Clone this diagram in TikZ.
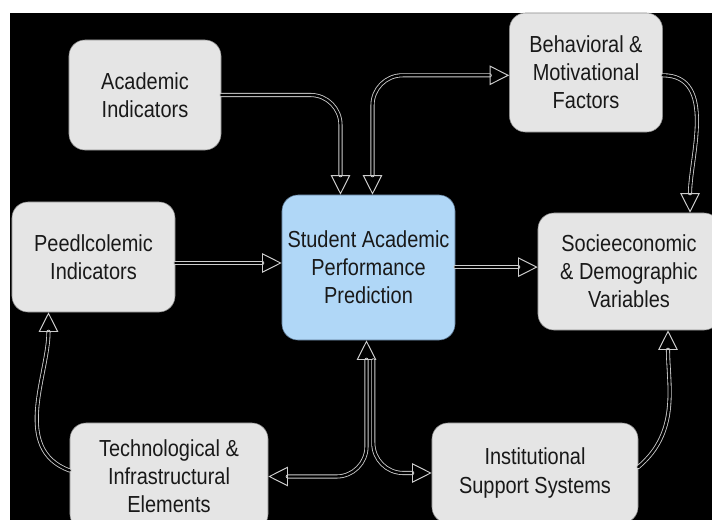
\documentclass[tikz,border=0pt]{standalone}
\usepackage{fontspec}
\setmainfont{Liberation Sans}[FakeStretch=0.86]
\usetikzlibrary{arrows.meta}

\colorlet{boxfill}{black!10}
\colorlet{boxdraw}{black!45}
\definecolor{predfill}{RGB}{176,215,247}
\definecolor{preddraw}{RGB}{90,118,145}
\colorlet{linkcolor}{black!20}

\begin{document}
\begin{tikzpicture}
  [x=0.025cm,y=-0.025cm,line cap=round,
   % Styles
   box/.style={draw=boxdraw,fill=boxfill,rounded corners=0.4cm,inner sep=0pt,
     align=center,text=black!90,font=\fontsize{16.5}{20}\selectfont},
   pred box/.style={box,draw=preddraw,fill=predfill},
   link/.style={draw=linkcolor,line width=0.6pt,double=black,double distance=1.7pt,
     >={Triangle[open,length=14pt,width=14pt,line width=0.7pt]}},
   curved link/.style={link,rounded corners=0.75cm}]

  % Background
  \fill[white] (0,0) rectangle (712,520);
  \fill[black] (10,13) rectangle (712,520);
  \useasboundingbox (0,0) rectangle (712,520);

  % The boxes
  \node[box,minimum width=3.8cm,minimum height=2.75cm] (acad) at (145,95)
    {Academic\\Indicators};
  \node[box,minimum width=3.825cm,minimum height=2.975cm] (behav) at (586,72.5)
    {Behavioral \&\\Motivational\\Factors};
  \node[box,minimum width=4.075cm,minimum height=2.75cm] (peda) at (93.5,257)
    {Peedlcolemic\\Indicators};
  \node[pred box,minimum width=4.325cm,minimum height=3.625cm] (pred) at (368.5,267.5)
    {Student Academic\\Performance\\Prediction};
  \node[box,minimum width=4.55cm,minimum height=2.925cm] (socio) at (629,271.5)
    {Socieeconomic\\\& Demographic\\Variables};
  \node[box,minimum width=4.95cm,minimum height=2.675cm] (tech) at (169,476.5)
    {Technological \&\\Infrastructural\\Elements};
  \node[box,minimum width=5.15cm,minimum height=2.5cm] (inst) at (535,473)
    {Institutional\\Support Systems};

  % Links into and out of the prediction box
  \draw[curved link,->] (acad.east) -| ([xshift=-0.7cm]pred.north);
  \draw[curved link,<->] ([xshift=0.1cm]pred.north) |- ([yshift=-0.07cm]behav.west);
  \draw[link,->] ([yshift=-0.15cm]peda.east) -- ([yshift=-0.15cm]peda.east -| pred.west);
  \draw[link,->] ([yshift=0.01cm]pred.east) -- ([yshift=0.01cm]pred.east -| socio.west);
  \draw[curved link,<->] (tech.east) -| ([xshift=-0.05cm]pred.south);
  \draw[curved link,->] ([xshift=0.12cm,yshift=-0.5cm]pred.south) |- (inst.west);

  % Links around the outside
  \draw[link,->] ([yshift=-0.07cm]behav.east) to[out=0,in=90] ([xshift=1.525cm]socio.north);
  \draw[link,->] ([yshift=0.15cm]inst.east) to[out=40,in=-90] ([xshift=0.975cm]socio.south);
  \draw[link,->] ([yshift=0.15cm]tech.west) to[out=160,in=-90] ([xshift=-1.125cm]peda.south);
\end{tikzpicture}
\end{document}
